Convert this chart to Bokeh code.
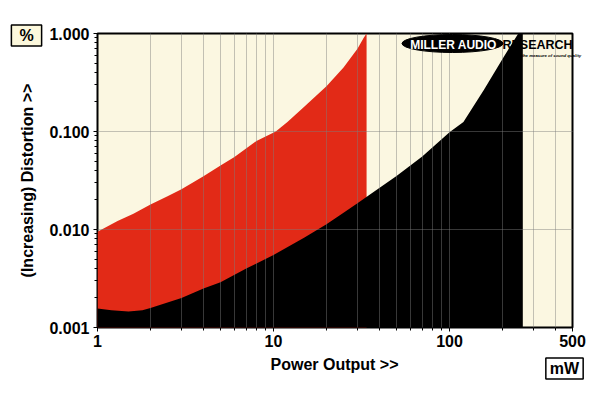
import math
from bokeh.plotting import figure
from bokeh.models import FixedTicker, PrintfTickFormatter, Label
from bokeh.core.properties import value
from bokeh.embed import file_html
from bokeh.resources import INLINE

# ---- data ----
red_x = [1, 1.3, 1.6, 2, 2.5, 3, 4, 5, 6, 8, 10.3, 12, 15, 20, 25, 30, 32.5, 33.8]
red_y = [0.0095, 0.0122, 0.0145, 0.0180, 0.0218, 0.0258, 0.035, 0.045, 0.055,
         0.080, 0.100, 0.125, 0.180, 0.29, 0.45, 0.70, 0.90, 1.0]

black_x = [1, 1.2, 1.5, 1.8, 2, 2.5, 3, 4, 5, 7, 10, 15, 20, 25, 30, 35, 50, 70,
           100, 120, 157, 200, 246, 261]
black_y = [0.00156, 0.0015, 0.00146, 0.0015, 0.00158, 0.0018, 0.0020, 0.0025,
           0.0029, 0.0040, 0.0055, 0.0083, 0.0113, 0.0148, 0.0185, 0.0225,
           0.0352, 0.0555, 0.098, 0.125, 0.267, 0.55, 1.0, 1.0]

x_major = [1, 10, 100, 500]
x_minor = [2, 3, 4, 5, 6, 7, 8, 9, 20, 30, 40, 50, 60, 70, 80, 90, 200, 300, 400]
y_major = [0.001, 0.01, 0.1, 1.0]
y_minor = [m * d for d in (0.001, 0.01, 0.1) for m in range(2, 10)]

X_RANGE = (1, 500)
Y_RANGE = (0.001, 1.0)

FONT = "Liberation Sans"
CREAM = "#fbf7e1"
RED = "#e22a17"

# ---- figure ----
W, H = 592, 393
FL, FR, FT, FB = 97, 572, 33, 327   # frame edges inside the canvas
p = figure(width=W, height=H, x_axis_type="log", y_axis_type="log",
           x_range=X_RANGE, y_range=Y_RANGE, output_backend="svg",
           toolbar_location=None, min_border_left=FL, min_border_right=W - FR,
           min_border_top=FT, min_border_bottom=H - FB)
p.background_fill_color = CREAM
p.border_fill_color = "white"
p.outline_line_color = "black"
p.outline_line_width = 2

def px2x(px):
    return 10 ** ((px - FL) / (FR - FL) * math.log10(X_RANGE[1]))
def py2y(py):
    return 10 ** (-3 * (py - FT) / (FB - FT))

# ---- areas ----
p.varea(x=red_x, y1=[Y_RANGE[0]] * len(red_x), y2=red_y, fill_color=RED)
p.varea(x=black_x, y1=[Y_RANGE[0]] * len(black_x), y2=black_y, fill_color="black")

# ---- axes ----
for ax in (p.xaxis[0], p.yaxis[0]):
    ax.axis_line_color = None
    ax.major_tick_in = 0
    ax.minor_tick_in = 0
    ax.major_tick_out = 4
    ax.minor_tick_out = 3
    ax.major_tick_line_color = "black"
    ax.minor_tick_line_color = "black"
    ax.major_label_text_font = FONT
    ax.major_label_text_font_style = "bold"
    ax.major_label_text_font_size = "16px"
    ax.major_label_text_color = "black"
    ax.axis_label_text_font = FONT
    ax.axis_label_text_font_style = "bold"
    ax.axis_label_text_font_size = "16px"
    ax.axis_label_text_color = "black"

p.xaxis.ticker = FixedTicker(ticks=x_major, minor_ticks=x_minor)
p.yaxis.ticker = FixedTicker(ticks=y_major, minor_ticks=y_minor)
p.xaxis.formatter = PrintfTickFormatter(format="%d")
p.yaxis.formatter = PrintfTickFormatter(format="%.3f")
p.xaxis.major_label_standoff = 3
p.yaxis.major_label_standoff = 4
p.yaxis.axis_label = "(Increasing) Distortion >>"
p.yaxis.axis_label_standoff = 10

# ---- grid over the fills ----
for g in (p.xgrid, p.ygrid):
    g.grid_line_color = "#7d7d7d"
    g.grid_line_alpha = 0.45
    g.level = "annotation"
p.xgrid.minor_grid_line_color = "#7d7d7d"
p.xgrid.minor_grid_line_alpha = 0.45

# ---- logo ----
p.ellipse(x=[px2x(452)], y=[py2y(43)], width=101, height=18,
          width_units="screen", height_units="screen",
          fill_color="black", line_color="black", level="overlay")
p.text(x=[px2x(453)], y=[py2y(44)], text=["MILLER AUDIO"],
       text_font=value(FONT), text_font_style="bold", text_font_size="12px",
       text_color="white", text_align="center", text_baseline="middle", level="overlay")
p.text(x=[px2x(537)], y=[py2y(44)], text=["RESEARCH"],
       text_font=value(FONT), text_font_style="bold", text_font_size="12.5px",
       text_color="black", text_align="center", text_baseline="middle", level="overlay")
p.text(x=[px2x(543)], y=[py2y(55)], text=["Setting the measure of sound quality"],
       text_font=value(FONT), text_font_style="bold italic", text_font_size="4.3px",
       text_color="black", text_align="center", text_baseline="middle", level="overlay")

# ---- texts in side panels (not clipped to the frame) ----
common = dict(x_units="screen", y_units="screen", text_font=FONT,
              text_font_style="bold", text_font_size="16px",
              text_align="center", text_baseline="middle", text_color="black")
pct = Label(x=27 - FL - 1, y=-2, text="%",
            background_fill_color="#fcf8dc", border_line_color="black",
            border_line_width=1.5,
            padding=dict(left=8, right=8, top=2, bottom=2), **common)
xlab = Label(x=335 - FL - 1, y=2, text="Power Output >>", **common)
mw = Label(x=565 - FL - 1, y=19, text="mW",
           background_fill_color="white", border_line_color="black",
           border_line_width=1.5,
           padding=dict(left=4, right=4, top=2, bottom=2), **common)
p.add_layout(pct, "above")
p.add_layout(xlab, "below")
p.add_layout(mw, "below")

open("out.html", "w").write(file_html(p, INLINE))
